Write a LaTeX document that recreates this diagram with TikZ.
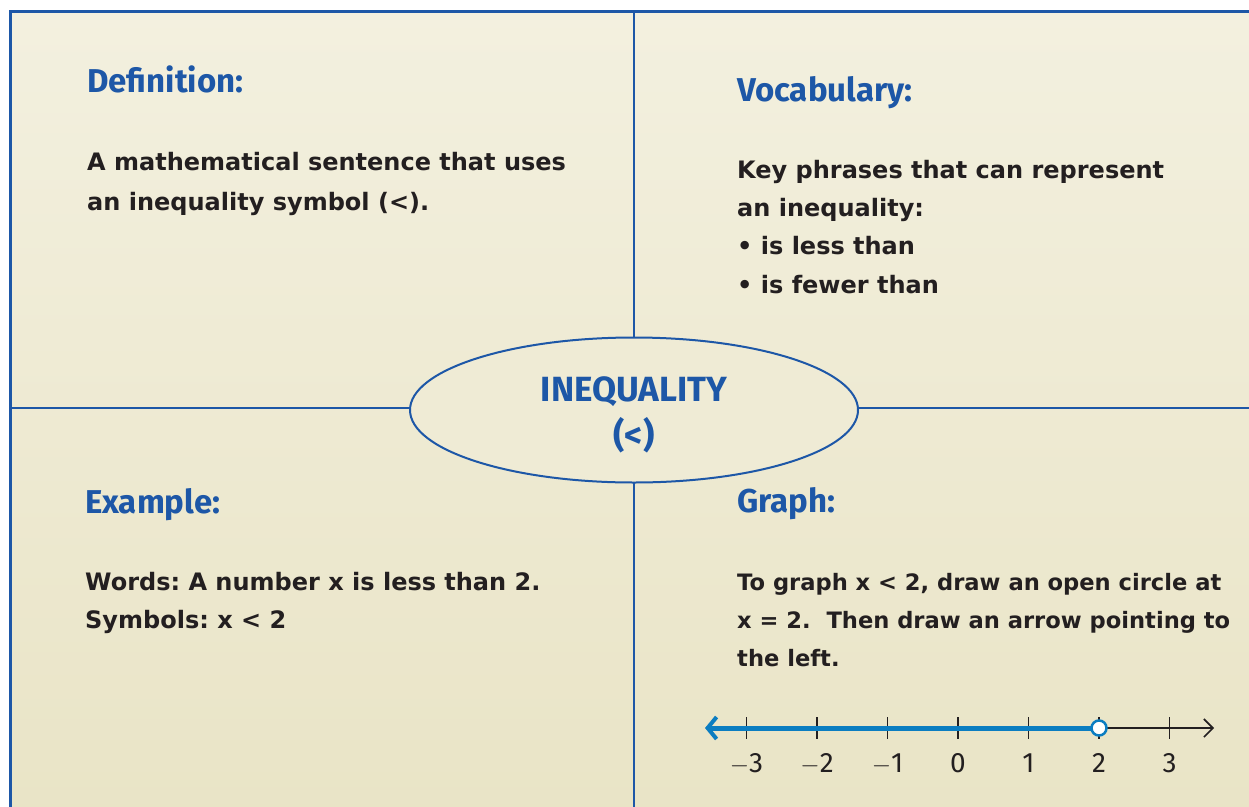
\documentclass[tikz,border=0pt]{standalone}
\usepackage{fontspec}
\setmainfont{Fira Sans}
\newfontfamily\bodyfont{DejaVu Sans}
\usetikzlibrary{shapes.geometric,arrows.meta}
\definecolor{frameblue}{HTML}{1D57A7}
\definecolor{lineblue}{HTML}{0B7DC1}
\definecolor{bglight}{HTML}{F3F0DF}
\definecolor{bgdark}{HTML}{E9E4C6}
\definecolor{txt}{HTML}{231F20}
\frenchspacing
\tikzset{
  head/.style={anchor=base west, inner sep=0pt, text=frameblue, font=\fontsize{33}{38}\selectfont\bfseries},
  body/.style={anchor=base west, inner sep=0pt, text=txt, font=\bodyfont\fontsize{24}{29}\selectfont\bfseries},
  bodysm/.style={body, font=\bodyfont\fontsize{22.6}{28}\selectfont\bfseries},
  titletext/.style={anchor=base, inner sep=0pt, text=frameblue, font=\fontsize{35}{40}\selectfont\bfseries},
  divider/.style={draw=frameblue, line width=2pt},
  tick/.style={draw=txt, line width=1.6pt},
  numlab/.style={anchor=base, inner sep=0pt, text=txt, font=\fontsize{28}{32}\selectfont}
}
\begin{document}
\begin{tikzpicture}[x=1pt,y=-1pt]
\useasboundingbox (0,0) rectangle (1249,806);
\fill[white] (0,0) rectangle (1249,806);
\begin{scope}
\clip (0,0) rectangle (1249,806);
\shade[top color=bglight, bottom color=bgdark] (10,11) rectangle (1260,820);
\draw[frameblue, line width=3pt] (10,820) -- (10,11) -- (1260,11);
\coordinate (vtop) at (634,11);
\coordinate (vbot) at (634,820);
\coordinate (hl) at (10,408);
\coordinate (hr) at (1260,408);
\draw[divider] (vtop) -- (vbot);
\draw[divider] (hl) -- (hr);
\end{scope}
\node[ellipse, draw=frameblue, line width=2pt, fill=bglight!60!bgdark, minimum width=448pt, minimum height=145pt, inner sep=0pt] (center) at (634,410) {};
\node[titletext] (title1) at (634,401) {INEQUALITY};
\node[titletext] (title2) at (634,447) {(<)};

\node[head] (defh) at (87,92) {Definition:};
\node[body] (def1) at (87,170) {A mathematical sentence that uses};
\node[body] (def2) at (87,210) {an inequality symbol (<).};

\node[head] (vocabh) at (737,101) {Vocabulary:};
\node[body] (voc1) at (737,178) {Key phrases that can represent};
\node[body] (voc2) at (737,216) {an inequality:};
\node[body] (voc3) at (737,254) {\textbullet{} is less than};
\node[body] (voc4) at (737,293) {\textbullet{} is fewer than};

\node[head] (exh) at (85,513) {Example:};
\node[body] (ex1) at (85,590) {Words: A number x is less than 2.};
\node[body] (ex2) at (85,628) {Symbols: x < 2};

\node[head] (grh) at (737,512) {Graph:};
\node[bodysm] (gr1) at (737,590) {To graph x < 2, draw an open circle at};
\node[bodysm] (gr2) at (737,628) {x = 2.\ \ Then draw an arrow pointing to};
\node[bodysm] (gr3) at (737,666) {the left.};

% number line
\coordinate (nl) at (705,728);
\coordinate (nr) at (1214,728);
\coordinate (open) at (1099,728);
\draw[txt, line width=1.6pt, -{Straight Barb[length=9pt,width=18pt,line width=1.6pt]}] (open) -- (nr);
\foreach \n/\l in {-3/{$-$3},-2/{$-$2},-1/{$-$1},0/0,1/1,2/2,3/3}{
  \coordinate (t\n) at ({958+70.5*\n},728);
  \draw[tick] ([yshift=11pt]t\n) -- ([yshift=-11pt]t\n);
  \node[numlab] (lab\n) at ([yshift=-44pt]t\n) {\l};
}
\draw[lineblue, line width=5pt, -{Straight Barb[length=9pt,width=22pt,line width=4pt]}] ([xshift=-7pt]open) -- (nl);
\node[circle, draw=lineblue, line width=2.5pt, fill=white, minimum size=15pt, inner sep=0pt] (oc) at (open) {};
\end{tikzpicture}
\end{document}
